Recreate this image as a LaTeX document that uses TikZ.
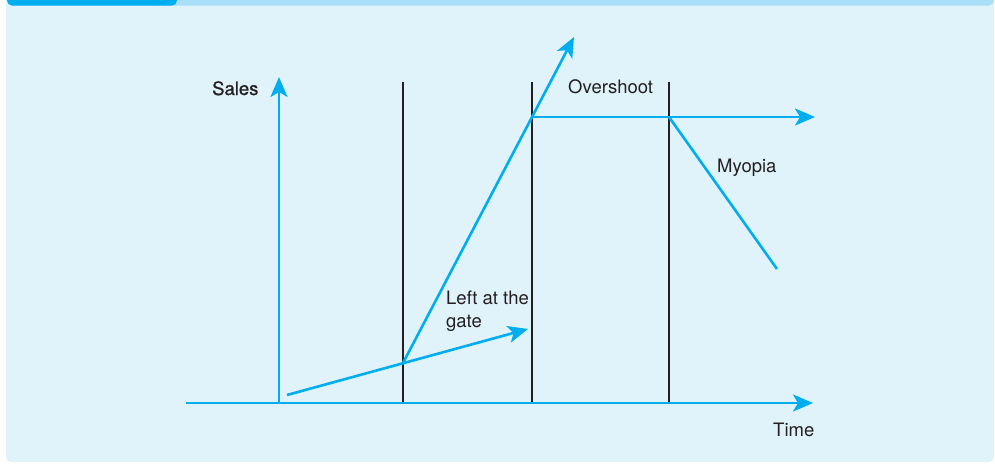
\documentclass[tikz,border=0pt]{standalone}
\usepackage{fontspec}
\setmainfont{TeX Gyre Heros}
\newfontfamily\medfont[FakeBold=0.8]{TeX Gyre Heros}
\usetikzlibrary{arrows.meta}
\definecolor{cyanline}{HTML}{00AEEF}
\definecolor{panelbg}{HTML}{E0F3FB}
\definecolor{barbg}{HTML}{A9DFF9}
\definecolor{txt}{HTML}{231F20}
\begin{document}
\begin{tikzpicture}[x=1pt,y=-1pt,
  blueline/.style={draw=cyanline,line width=2.6pt},
  blackline/.style={draw=txt,line width=1.8pt},
  tip/.style={-{Stealth[length=20pt,width=17pt,inset=5pt]}},
  lbl/.style={inner sep=0pt,anchor=base west,text=txt,font=\fontsize{18.5}{23}\selectfont}]
\useasboundingbox (0,0) rectangle (995,463);
% panel
\fill[panelbg,rounded corners=5pt] (6,-10) rectangle (994,462);
\fill[barbg,rounded corners=5pt] (7,-10) rectangle (994,5.5);
\fill[cyanline,rounded corners=5pt] (7,-10) rectangle (177,5.5);
% coordinates
\coordinate (ybot) at (279,403);
\coordinate (ytop) at (279,77);
\coordinate (xl) at (186,403);
\coordinate (xr) at (813,403);
\coordinate (v1t) at (403,82);
\coordinate (v1b) at (403,403);
\coordinate (v2t) at (532,82);
\coordinate (v2b) at (532,403);
\coordinate (v3t) at (669,82);
\coordinate (v3b) at (669,403);
\coordinate (s) at (287,395);
\coordinate (lt) at (528,329);
\coordinate (p1) at (403,363);
\coordinate (st) at (574,37);
\coordinate (p2) at (532,117);
\coordinate (ht) at (815,117);
\coordinate (p3) at (669,117);
\coordinate (me) at (777,269);
% vertical black lines
\draw[blackline] (v1t) -- (v1b);
\draw[blackline] (v2t) -- (v2b);
\draw[blackline] (v3t) -- (v3b);
% axes
\draw[blueline,tip] (ybot) -- (ytop);
\draw[blueline,tip] (xl) -- (xr);
% curves
\draw[blueline,tip] (s) -- (lt);
\draw[blueline,tip] (p1) -- (st);
\draw[blueline,tip] (p2) -- (ht);
\draw[blueline] (p3) -- (me);
% labels
\node[lbl,font=\fontsize{18.5}{23}\selectfont\medfont] (sales) at (212,95) {Sales};
\node[lbl] (over) at (568,93) {Overshoot};
\node[lbl] (myo) at (717,172) {Myopia};
\node[lbl] (left1) at (446,304) {Left at the};
\node[lbl] (left2) at (446,327) {gate};
\node[lbl] (time) at (773,436) {Time};
\end{tikzpicture}
\end{document}
